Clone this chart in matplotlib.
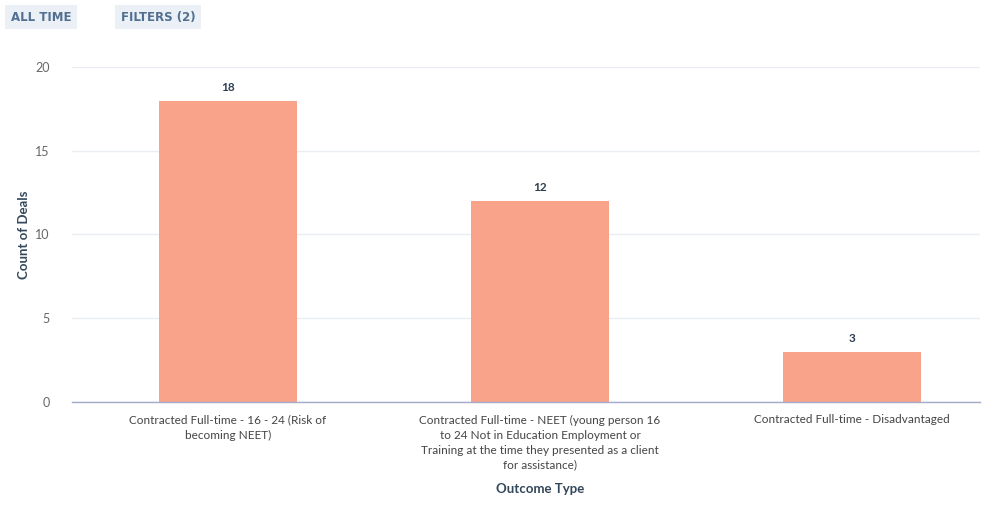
import matplotlib

matplotlib.use("Agg")
import matplotlib.pyplot as plt

# Deal counts per outcome type
categories = [
    "Contracted Full-time - 16 - 24 (Risk of\nbecoming NEET)",
    "Contracted Full-time - NEET (young person 16\nto 24 Not in Education Employment or\n"
    "Training at the time they presented as a client\nfor assistance)",
    "Contracted Full-time - Disadvantaged",
]
counts = [18, 12, 3]
y_ticks = [0, 5, 10, 15, 20]

BAR = "#f9a38a"
TEXT = "#33475b"
TICK = "#516f90"

plt.rcParams["font.family"] = ["Lato", "DejaVu Sans"]

fig = plt.figure(figsize=(10, 5.08), dpi=100)
ax = fig.add_axes([0.072, 0.2087, 0.908, 0.6594])

x = list(range(len(categories)))
ax.bar(x, counts, width=0.44, color=BAR, zorder=2)
for xi, c in zip(x, counts):
    ax.text(xi, c + 0.45, str(c), ha="center", va="bottom",
            fontsize=8.5, fontweight="bold", color="#2d3e50")

ax.set_xlim(-0.5, 2.41)
ax.set_ylim(0, 20)
ax.set_yticks(y_ticks)
ax.set_xticks(x)
ax.set_xticklabels(categories, fontsize=8.5, color="#444", linespacing=1.45)
ax.tick_params(axis="y", labelsize=9, colors="#666", length=0, pad=16)
ax.tick_params(axis="x", length=0, pad=9)

ax.grid(axis="y", color="#eaeef2", lw=1, zorder=0)
for s in ["top", "right", "left"]:
    ax.spines[s].set_visible(False)
ax.spines["bottom"].set_color("#a3a9c9")
ax.spines["bottom"].set_linewidth(1)

ax.set_ylabel("Count of Deals", fontsize=9.5, fontweight="bold", color=TEXT, labelpad=4)
fig.text(0.54, 0.025, "Outcome Type", ha="center", va="bottom",
         fontsize=9.5, fontweight="bold", color=TEXT)

# filter chips above the chart
for label, cx in [("ALL TIME", 0.041), ("FILTERS (2)", 0.158)]:
    fig.text(cx, 0.9665, label, ha="center", va="center", fontsize=8.5,
             fontweight="bold", color=TICK, family="DejaVu Sans",
             bbox=dict(boxstyle="square,pad=0.5", fc="#eaf0f6", ec="none"))

fig.savefig("out.png", dpi=100)
